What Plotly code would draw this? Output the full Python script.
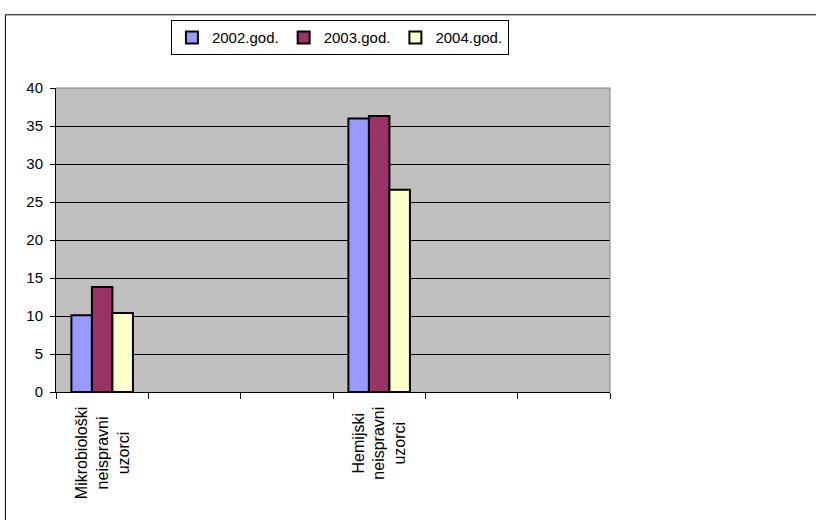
import plotly.graph_objects as go

# ---- data ----
categories = ["Mikrobiološki<br>neispravni<br>uzorci", "", "", "Hemijski<br>neispravni<br>uzorci", "", ""]
series_names = ["2002.god.", "2003.god.", "2004.god."]
v2002 = [10.1, None, None, 36.0, None, None]
v2003 = [13.8, None, None, 36.3, None, None]
v2004 = [10.4, None, None, 26.6, None, None]
y_ticks = [0, 5, 10, 15, 20, 25, 30, 35, 40]

colors = ["#9999FF", "#993366", "#FFFFCC"]
FONT = "Liberation Sans, Arial, sans-serif"

x_pos = list(range(len(categories)))

fig = go.Figure()
for name, vals, col in zip(series_names, [v2002, v2003, v2004], colors):
    fig.add_trace(go.Bar(
        x=x_pos, y=vals, name=name,
        marker=dict(color=col, line=dict(color="black", width=2)),
    ))

# category labels (centered multi-line, rotated)
for i, lab in enumerate(categories):
    if lab:
        fig.add_annotation(
            x=i, xref="x", y=0, yref="paper", yanchor="top", xanchor="center",
            yshift=-13, text=lab, textangle=-90, align="center", showarrow=False,
            font=dict(family=FONT, size=16, color="black"),
        )

n = len(categories)
fig.update_layout(
    width=816, height=520,
    margin=dict(l=56, r=206, t=88, b=128, autoexpand=False),
    paper_bgcolor="white",
    plot_bgcolor="#C0C0C0",
    barmode="group", bargap=1/3, bargroupgap=0,
    font=dict(family=FONT, size=15, color="black"),
    showlegend=True,
    legend=dict(
        orientation="h", x=0.5125, xanchor="center", y=1.2227, yanchor="top",
        bgcolor="white", bordercolor="black", borderwidth=1,
        font=dict(family=FONT, size=15, color="black"),
        itemwidth=30, traceorder="normal",
    ),
    xaxis=dict(
        range=[-0.5, n - 0.5], showgrid=False, zeroline=False,
        showline=True, linecolor="black", linewidth=1,
        tickmode="array", tickvals=[i - 0.5 for i in range(n + 1)],
        showticklabels=False, ticks="outside", ticklen=6, tickcolor="black",
    ),
    yaxis=dict(
        range=[0, 40], tickmode="array", tickvals=y_ticks,
        showgrid=True, gridcolor="black", gridwidth=1, zeroline=False,
        showline=True, linecolor="black", linewidth=1,
        ticks="outside", ticklen=5, tickcolor="black", ticklabelstandoff=4,
        tickfont=dict(family=FONT, size=15, color="black"),
    ),
    shapes=[
        # gray plot-area frame (top and right)
        dict(type="path", xref="paper", yref="paper",
             path="M 0,1 L 1,1 L 1,0", line=dict(color="#808080", width=1),
             layer="above"),
        # outer chart frame
        dict(type="rect", xref="paper", yref="paper",
             x0=-0.0913, x1=1.6, y0=-0.6, y1=1.2408,
             line=dict(color="black", width=1), fillcolor="rgba(0,0,0,0)",
             layer="below"),
    ],
)

fig.write_html("out.html")
